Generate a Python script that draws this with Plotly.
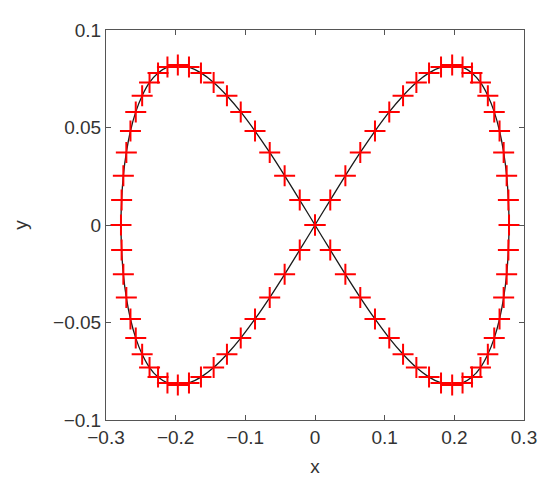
import plotly.graph_objects as go

# marker positions (one full loop, last point closes it)
x_vals = [
    0.2785, 0.2776, 0.2751, 0.2708, 0.2649, 0.2573, 0.2481, 0.2375, 0.2253, 0.2118,
    0.1969, 0.1809, 0.1637, 0.1455, 0.1264, 0.1066, 0.0861, 0.0650, 0.0436, 0.0219,
    0.0,
    -0.0219, -0.0436, -0.0650, -0.0861, -0.1066, -0.1264, -0.1455, -0.1637, -0.1809, -0.1969,
    -0.2118, -0.2253, -0.2375, -0.2481, -0.2573, -0.2649, -0.2708, -0.2751, -0.2776, -0.2785,
    -0.2776, -0.2751, -0.2708, -0.2649, -0.2573, -0.2481, -0.2375, -0.2253, -0.2118, -0.1969,
    -0.1809, -0.1637, -0.1455, -0.1264, -0.1066, -0.0861, -0.0650, -0.0436, -0.0219, 0.0,
    0.0219, 0.0436, 0.0650, 0.0861, 0.1066, 0.1264, 0.1455, 0.1637, 0.1809, 0.1969,
    0.2118, 0.2253, 0.2375, 0.2481, 0.2573, 0.2649, 0.2708, 0.2751, 0.2776, 0.2785,
]
y_vals = [
    0.0, 0.0128, 0.0253, 0.0372, 0.0482, 0.0580, 0.0663, 0.0731, 0.0780, 0.0810,
    0.0820, 0.0810, 0.0780, 0.0731, 0.0663, 0.0580, 0.0482, 0.0372, 0.0253, 0.0128,
    0.0,
    -0.0128, -0.0253, -0.0372, -0.0482, -0.0580, -0.0663, -0.0731, -0.0780, -0.0810, -0.0820,
    -0.0810, -0.0780, -0.0731, -0.0663, -0.0580, -0.0482, -0.0372, -0.0253, -0.0128, 0.0,
    0.0128, 0.0253, 0.0372, 0.0482, 0.0580, 0.0663, 0.0731, 0.0780, 0.0810, 0.0820,
    0.0810, 0.0780, 0.0731, 0.0663, 0.0580, 0.0482, 0.0372, 0.0253, 0.0128, 0.0,
    -0.0128, -0.0253, -0.0372, -0.0482, -0.0580, -0.0663, -0.0731, -0.0780, -0.0810, -0.0820,
    -0.0810, -0.0780, -0.0731, -0.0663, -0.0580, -0.0482, -0.0372, -0.0253, -0.0128, 0.0,
]

x_ticks = [-0.3, -0.2, -0.1, 0, 0.1, 0.2, 0.3]
x_labels = ["\u22120.3", "\u22120.2", "\u22120.1", "0", "0.1", "0.2", "0.3"]
y_ticks = [-0.1, -0.05, 0, 0.05, 0.1]
y_labels = ["\u22120.1", "\u22120.05", "0", "0.05", "0.1"]

_AX = "#555555"
_FONT = dict(family="Liberation Sans, Arial, sans-serif", size=19, color="#333333")

fig = go.Figure()
fig.add_trace(go.Scatter(
    x=x_vals, y=y_vals,
    mode="lines",
    line=dict(color="#1a1a1a", width=1.3, shape="spline", smoothing=0.6),
    hoverinfo="skip",
))
fig.add_trace(go.Scatter(
    x=x_vals[:-1], y=y_vals[:-1],
    mode="markers",
    marker=dict(symbol="cross-thin", size=15, line=dict(color="#ff0000", width=2)),
))

axis_base = dict(
    showgrid=False, zeroline=False,
    showline=True, linecolor=_AX, linewidth=1,
    mirror="ticks", ticks="inside", ticklen=5, tickcolor=_AX, tickwidth=1,
    tickfont=_FONT,
)
# page body has an 8px margin, so the figure is a little smaller than the window
fig.update_layout(
    width=542, height=479,
    showlegend=False,
    plot_bgcolor="#fff",
    paper_bgcolor="#fff",
    margin=dict(l=86, r=26, t=17, b=67),
    xaxis=dict(range=[-0.3, 0.3], tickvals=x_ticks, ticktext=x_labels,
               title=dict(text="x", font=_FONT, standoff=12), **axis_base),
    yaxis=dict(range=[-0.1, 0.1], tickvals=y_ticks, ticktext=y_labels,
               title=dict(text="y", font=_FONT, standoff=20), **axis_base),
)

fig.write_html("out.html")
